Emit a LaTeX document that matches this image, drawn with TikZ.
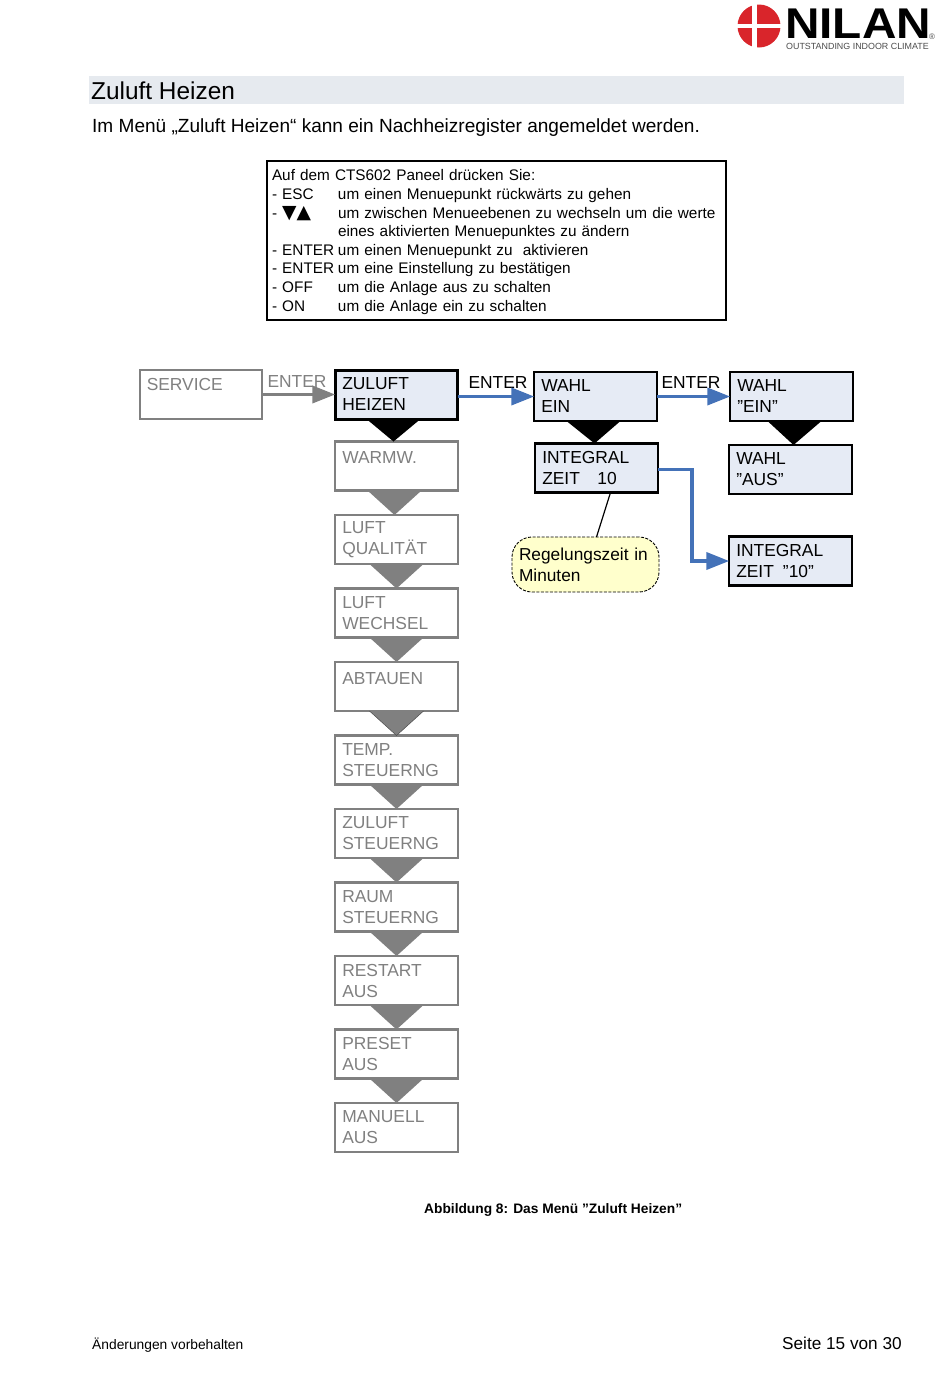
\documentclass[tikz,border=0pt]{standalone}
\usepackage{fontspec}
\setmainfont{Liberation Sans}
\newfontfamily\symbolfont{DejaVu Sans}
\usetikzlibrary{positioning,arrows.meta}

\definecolor{kastenblau}{HTML}{E6EBF5}
\definecolor{bandgrau}{HTML}{E6EAEF}
\definecolor{menugrau}{HTML}{808080}
\definecolor{pfeilblau}{HTML}{4472B8}
\definecolor{notizgelb}{HTML}{FFFFCC}
\definecolor{nilanrot}{HTML}{D9252B}

\newcommand{\zeile}[2]{\makebox[66pt][l]{- #1}#2}

\begin{document}
\begin{tikzpicture} [x=1pt, y=-1pt, node distance=24.5pt and 73pt,
    menubox/.style={rectangle,draw,outer sep=0pt,minimum width=122.5pt,minimum height=49pt,
        text width=108.5pt,inner xsep=7pt,inner ysep=0pt,align=left,
        font=\fontsize{17.4}{21}\selectfont},
    grau/.style={menubox,draw=menugrau,text=menugrau,line width=2.4pt},
    aktiv/.style={menubox,draw=black,fill=kastenblau,line width=2.2pt},
    haupt/.style={aktiv,line width=3pt},
    enter/.style={font=\fontsize{17.4}{21}\selectfont,inner sep=0pt},
    pfeil/.style={line width=3.8pt,-{Triangle[length=23pt,width=17pt]}},
    frei/.style={anchor=base west,inner sep=0pt}]

\useasboundingbox (0,0) rectangle (950,1379);

% logo
\fill[nilanrot] (759,26) circle (21.5);
\fill[white] (752,4) rectangle (757,48);
\fill[white] (737,24) rectangle (781,28);
\node[frei,font=\bfseries\fontsize{43}{43}\selectfont,xscale=1.11] (NIL) at (785,38) {NILAN};
\node[frei,font=\fontsize{8.9}{10}\selectfont,text=black!70] (OIC) at (786,49.5) {OUTSTANDING INDOOR CLIMATE};
\node[frei,font=\fontsize{8}{8}\selectfont,text=black!70] (REG) at (929,39) {®};

% kopf
\fill[bandgrau] (89,76) rectangle (904,104);
\node[frei,font=\fontsize{24.4}{26}\selectfont] (TIT) at (91,99) {Zuluft Heizen};
\node[frei,font=\fontsize{19.05}{22}\selectfont] (SUB) at (92,132) {Im Menü „Zuluft Heizen“ kann ein Nachheizregister angemeldet werden.};

\node[draw,line width=1.6pt,outer sep=0pt,minimum width=459pt,minimum height=159pt,text width=449pt,
      inner xsep=5pt,inner ysep=0pt,align=left,font=\fontsize{15.33}{18.6}\selectfont] (INFO) at (496.5,240.5) {%
\rule{0pt}{14.2pt}Auf dem CTS602 Paneel drücken Sie:\\
\zeile{ESC}{um einen Menuepunkt rückwärts zu gehen}\\
\zeile{{\symbolfont\fontsize{18.8}{18.6}\selectfont ▼▲}}{um zwischen Menueebenen zu wechseln um die werte}\\
\makebox[66pt][l]{}eines aktivierten Menuepunktes zu ändern\\
\zeile{ENTER}{um einen Menuepunkt zu\ \ aktivieren}\\
\zeile{ENTER}{um eine Einstellung zu bestätigen}\\
\zeile{OFF}{um die Anlage aus zu schalten}\\
\zeile{ON}{um die Anlage ein zu schalten}};

% menue
\node[grau] (SE) at (201,394.5) {SERVICE\\~};
\node[haupt] (ZH) [right=of SE] {ZULUFT\\HEIZEN};
\node[grau] (WW) [below=22.5pt of ZH] {\rule{0pt}{16.5pt}WARMW.\\~};
\node[grau] (LQ) [below=of WW] {LUFT\\QUALITÄT};
\node[grau] (LW) [below=of LQ] {LUFT\\WECHSEL};
\node[grau] (AB) [below=of LW] {\rule{0pt}{16.5pt}ABTAUEN\\~};
\node[grau] (TS) [below=of AB] {TEMP.\\STEUERNG};
\node[grau] (ZS) [below=of TS] {ZULUFT\\STEUERNG};
\node[grau] (RS) [below=of ZS] {RAUM\\STEUERNG};
\node[grau] (RA) [below=of RS] {RESTART\\AUS};
\node[grau] (PA) [below=of RA] {PRESET\\AUS};
\node[grau] (MA) [below=of PA] {MANUELL\\AUS};

\node[aktiv] (WE) at (595.5,396.5) {WAHL\\EIN};
\node[aktiv] (IZ) at (596.5,468) {INTEGRAL\\ZEIT\ \ \ 10};
\node[aktiv] (WH) at (791.5,396.5) {WAHL\\”EIN”};
\node[aktiv] (WA) at (790.5,469.5) {WAHL\\”AUS”};
\node[aktiv] (IH) at (790.5,561) {INTEGRAL\\ZEIT\hspace{9pt}”10”};

\node[draw,dash pattern=on 3pt off 1.5pt,line width=.9pt,fill=notizgelb,rounded corners=20pt,outer sep=0pt,minimum width=147pt,minimum height=55pt,
      text width=133pt,inner xsep=7pt,inner ysep=0pt,align=left,
      font=\fontsize{17.3}{21}\selectfont] (RZ) at (585.5,564.5) {Regelungszeit in\\Minuten};

\node[enter,text=menugrau] (E1) at (297,382) {ENTER};
\node[enter] (E2) at (498,383) {ENTER};
\node[enter] (E3) at (691,383) {ENTER};

\node[frei,font=\bfseries\fontsize{13.75}{15}\selectfont] (CAP) at (424,1213) {Abbildung 8: Das Menü ”Zuluft Heizen”};
\node[frei,font=\fontsize{13.8}{16}\selectfont] (FL) at (92,1349) {Änderungen vorbehalten};
\node[frei,font=\fontsize{17.2}{20}\selectfont] (FR) at (782,1349) {Seite 15 von 30};

 \foreach \oben/\unten/\farbe/\dx in {ZH/WW/black/-3,WE/IZ/black/-2,WH/WA/black/3,
    WW/LQ/menugrau/-2,LQ/LW/menugrau/0,LW/AB/menugrau/0,AB/TS/menugrau/0,TS/ZS/menugrau/0,
    ZS/RS/menugrau/0,RS/RA/menugrau/0,RA/PA/menugrau/0,PA/MA/menugrau/0}
    \fill[\farbe] ([xshift=\dx pt-27pt]\oben.south) -- ([xshift=\dx pt+27pt]\oben.south) -- ([xshift=\dx pt]\unten.north) -- cycle;
 \draw[line width=.5pt,black!70] ([xshift=-27pt]AB.south) -- (TS.north) -- ([xshift=27pt]AB.south);

 \draw[pfeil,menugrau] (SE) -- (ZH);
 \draw[pfeil,pfeilblau] (ZH.east |- WE) -- (WE);
 \draw[pfeil,pfeilblau] (WE) -- (WH);
 \draw[pfeil,pfeilblau] ([yshift=-1.5pt]IZ.east) -- ++(34,0) |- (IH.west);
 \draw[line width=1.2pt] ([xshift=14pt]IZ.south) -- ([xshift=11pt]RZ.north);
\end{tikzpicture}
\end{document}
